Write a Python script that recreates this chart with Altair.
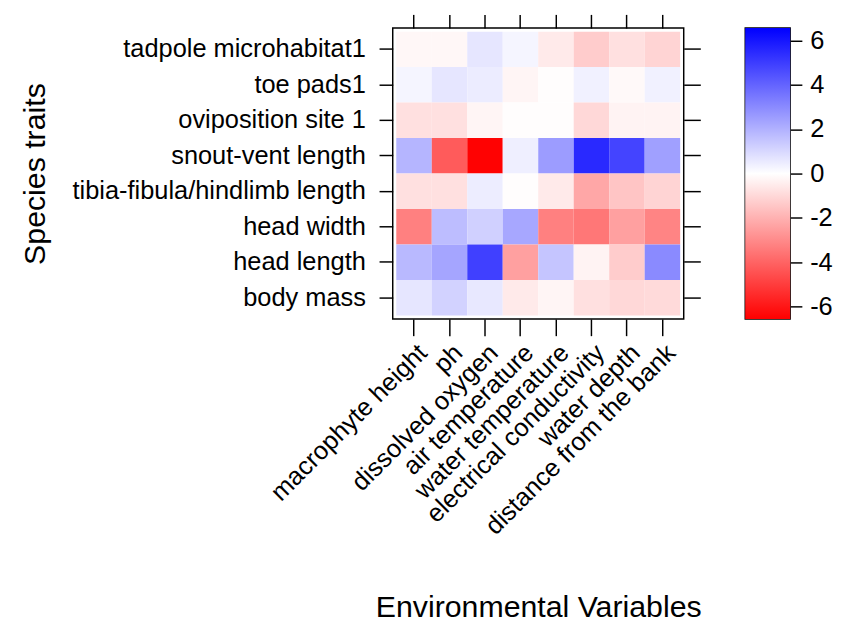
import altair as alt
import pandas as pd

traits = [
    "tadpole microhabitat1",
    "toe pads1",
    "oviposition site 1",
    "snout-vent length",
    "tibia-fibula/hindlimb length",
    "head width",
    "head length",
    "body mass",
]
envs = [
    "macrophyte height",
    "ph",
    "dissolved oxygen",
    "air temperature",
    "water temperature",
    "electrical conductivity",
    "water depth",
    "distance from the bank",
]

# one list per trait (row), values in the order of envs
v_tadpole = [-0.2, -0.2, 0.65, 0.25, -0.55, -1.3, -0.8, -1.1]
v_toepads = [0.25, 0.65, 0.5, -0.25, -0.05, 0.35, -0.15, 0.35]
v_ovipos = [-0.8, -0.8, -0.25, -0.05, -0.05, -1.0, -0.3, -0.3]
v_svl = [1.9, -4.2, -6.5, 0.4, 2.55, 5.5, 4.8, 2.45]
v_tibia = [-0.8, -0.8, 0.45, -0.05, -0.55, -2.25, -1.5, -1.1]
v_hwidth = [-3.25, 1.7, 1.2, 2.25, -3.25, -3.5, -2.45, -3.15]
v_hlength = [1.8, 2.3, 4.9, -2.45, 1.5, -0.3, -1.3, 3.0]
v_mass = [0.65, 1.15, 0.6, -0.55, -0.25, -0.8, -1.0, -0.95]

rows = [v_tadpole, v_toepads, v_ovipos, v_svl, v_tibia, v_hwidth, v_hlength, v_mass]

colorbar_ticks = [-6, -4, -2, 0, 2, 4, 6]
LIM = 6.55

records = []
for t, vals in zip(traits, rows):
    for e, v in zip(envs, vals):
        records.append({"trait": t, "env": e, "value": v})
df = pd.DataFrame(records)

FONT = "Liberation Sans"

color_scale = alt.Scale(domain=[-LIM, 0, LIM], range=["#FF0000", "#FFFFFF", "#0000FF"],
                        interpolate="rgb")
x_scale = alt.Scale(paddingInner=0, paddingOuter=0.1)
y_scale = alt.Scale(paddingInner=0, paddingOuter=0.1)

base = alt.Chart(df)

cells = base.mark_rect().encode(
    x=alt.X("env:N", sort=envs, scale=x_scale,
            axis=alt.Axis(orient="bottom", title="Environmental Variables", labelAngle=-45,
                          labelAlign="right", labelBaseline="top", tickSize=17, labelPadding=4,
                          titleBaseline="alphabetic", titleY=305, domain=False,
                          labelLimit=1000)),
    y=alt.Y("trait:N", sort=traits, scale=y_scale,
            axis=alt.Axis(orient="left", title="Species traits", tickSize=14, labelPadding=14,
                          titleBaseline="alphabetic", titleX=-357, domain=False,
                          labelLimit=1000)),
    color=alt.Color("value:Q", scale=color_scale, legend=None),
)

frame = base.mark_rect(opacity=0).encode(
    x=alt.X("env:N", sort=envs, scale=x_scale,
            axis=alt.Axis(orient="top", labels=False, title=None, tickSize=14, domain=False)),
    y=alt.Y("trait:N", sort=traits, scale=y_scale,
            axis=alt.Axis(orient="right", labels=False, title=None, tickSize=17, domain=False)),
)

heat = alt.layer(cells, frame).resolve_axis(x="independent", y="independent").properties(
    width=298, height=298)

bar_df = pd.DataFrame({"lo": [-LIM], "hi": [LIM]})
grad = alt.Gradient(
    gradient="linear",
    stops=[alt.GradientStop(color="#FF0000", offset=0),
           alt.GradientStop(color="#FFFFFF", offset=0.5),
           alt.GradientStop(color="#0000FF", offset=1)],
    x1=0, x2=0, y1=1, y2=0,
)
bar = alt.Chart(bar_df).mark_rect(color=grad).encode(
    y=alt.Y("lo:Q", scale=alt.Scale(domain=[-LIM, LIM], nice=False, zero=False),
            axis=alt.Axis(orient="right", values=colorbar_ticks, title=None, tickSize=12,
                          labelPadding=8, grid=False, domain=False,
                          labelExpr="'' + datum.value")),
    y2="hi:Q",
).properties(width=46, height=298)

chart = alt.hconcat(heat, bar, spacing=63, bounds="flush").configure_view(
    stroke="black", strokeWidth=1.5
).configure_axis(
    labelFont=FONT, titleFont=FONT, labelFontSize=26, titleFontSize=31,
    labelColor="black", titleColor="black", tickColor="black", tickWidth=1.5,
    titleFontWeight="normal", grid=False,
).properties(padding={"left": 11, "top": -3, "right": 5, "bottom": 5})

chart.save("out.html", embed_options={"renderer": "svg", "actions": False})
